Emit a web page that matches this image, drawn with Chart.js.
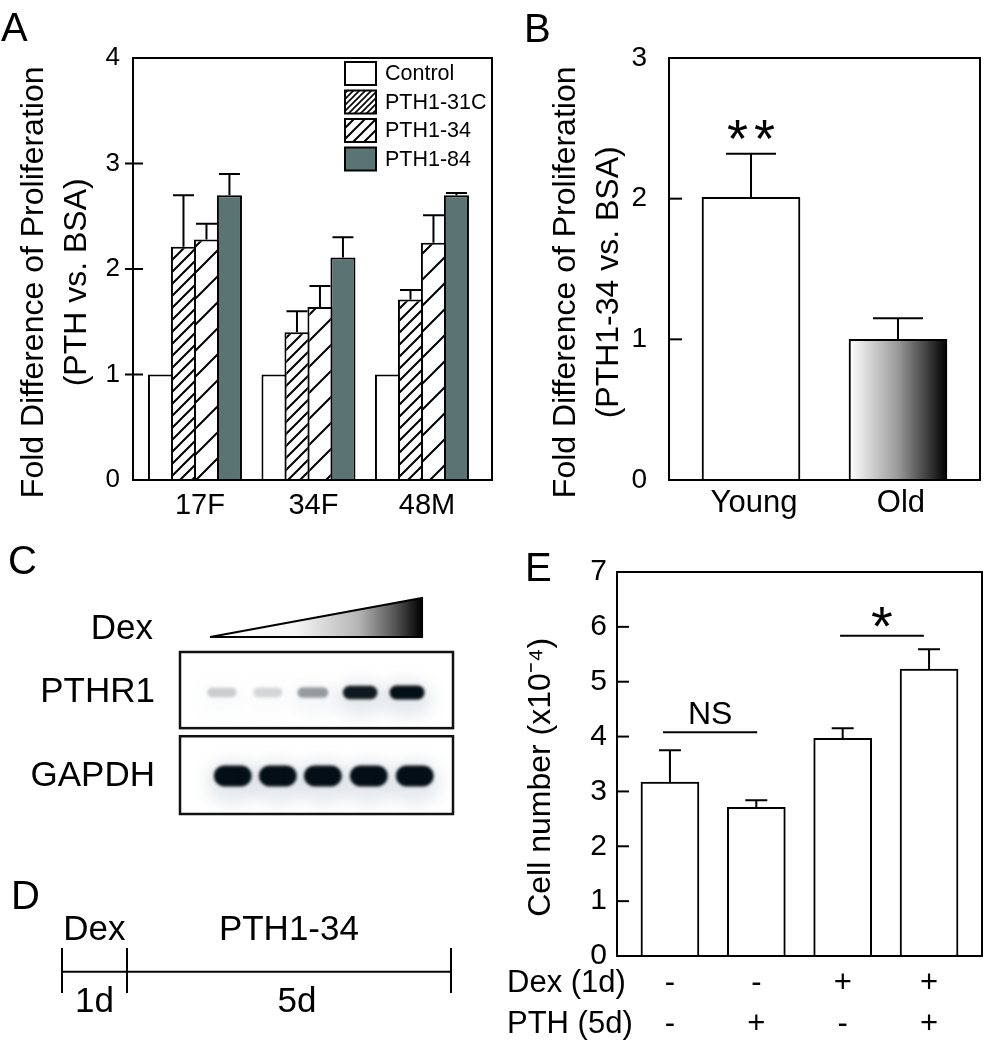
<!DOCTYPE html>
<html>
<head>
<meta charset="utf-8">
<title>PTH proliferation figure</title>
<script src="https://cdn.jsdelivr.net/npm/chart.js@4.4.1/dist/chart.umd.min.js"></script>
<style>
  html, body { margin:0; padding:0; background:#fff; }
  #fig { position:relative; width:995px; height:1050px; overflow:hidden; background:#fff; font-family:"Liberation Sans", Arial, sans-serif; }
  #fig canvas { position:absolute; }
  .panel { position:absolute; font-size:40px; line-height:1; color:#000; }
</style>
</head>
<body>
<div id="fig">
  <canvas id="chartA" width="500" height="525" style="left:0;top:0;width:500px;height:525px"></canvas>
  <canvas id="chartB" width="495" height="525" style="left:500px;top:0;width:495px;height:525px"></canvas>
  <canvas id="chartC" width="480" height="335" style="left:0;top:525px;width:480px;height:335px"></canvas>
  <canvas id="chartD" width="480" height="190" style="left:0;top:860px;width:480px;height:190px"></canvas>
  <canvas id="chartE" width="500" height="525" style="left:495px;top:525px;width:500px;height:525px"></canvas>
  <div class="panel" style="left:1px;top:7px">A</div>
  <div class="panel" style="left:524px;top:8px">B</div>
  <div class="panel" style="left:8px;top:540px">C</div>
  <div class="panel" style="left:11px;top:875px">D</div>
  <div class="panel" style="left:525px;top:547px">E</div>
</div>
<script>
// ================= DATA =================
// Panel A
const groupsA = ['17F', '34F', '48M'];
const seriesA = ['Control', 'PTH1-31C', 'PTH1-34', 'PTH1-84'];
const controlA = [1.00, 1.00, 1.00];
const pth131cA = [2.21, 1.40, 1.71];
const pth131cErrA = [0.49, 0.20, 0.09];
const pth134A = [2.28, 1.64, 2.25];
const pth134ErrA = [0.15, 0.20, 0.26];
const pth184A = [2.70, 2.11, 2.70];
const pth184ErrA = [0.20, 0.19, 0.02];
const yTicksA = [0, 1, 2, 3, 4];

// Panel B
const groupsB = ['Young', 'Old'];
const foldB = [2.01, 1.00];
const foldErrB = [0.31, 0.15];
const sigB = ['**', ''];
const yTicksB = [0, 1, 2, 3];

// Panel C (blot)
const blotRows = ['PTHR1', 'GAPDH'];
const blotRowY = [1.50, 0.47];
const pthr1LaneX = [0.92, 1.93, 2.92, 3.96, 4.99];
const pthr1Signal = [0.20, 0.16, 0.40, 0.95, 1.00];
const gapdhLaneX = [1.16, 2.15, 3.14, 4.15, 5.16];
const gapdhSignal = [1.00, 1.00, 1.00, 1.00, 1.00];

// Panel D (timeline, days)
const phaseName = ['Dex', 'PTH1-34'];
const phaseDuration = ['1d', '5d'];
const phaseStart = [0, 1];
const phaseEnd = [1, 6];

// Panel E
const rowTitlesE = ['Dex (1d)', 'PTH (5d)'];
const dexRowE = ['-', '-', '+', '+'];
const pthRowE = ['-', '+', '-', '+'];
const cellE = [3.17, 2.71, 3.97, 5.23];
const cellErrE = [0.58, 0.13, 0.18, 0.36];
const yTicksE = [0, 1, 2, 3, 4, 5, 6, 7];
const sigTextE = ['NS', '*'];
const sigFromE = [0.92, 2.97];
const sigToE = [2.01, 3.94];
const sigLevelE = [4.08, 5.84];

// ================= SETUP =================
const FAM = '"Liberation Sans", Arial, Helvetica, sans-serif';
Chart.defaults.font.family = FAM;
Chart.defaults.color = '#000';
Chart.defaults.animation = false;
Chart.defaults.plugins.legend.display = false;
Chart.defaults.plugins.tooltip.enabled = false;

// vertical titles sit a little below the plot centre in the figure
const TITLE_PAD = '   ';

function hatch(step, lw) {
  const c = document.createElement('canvas');
  c.width = step; c.height = step;
  const g = c.getContext('2d');
  g.fillStyle = '#fff'; g.fillRect(0, 0, step, step);
  g.strokeStyle = '#000'; g.lineWidth = lw;
  g.beginPath();
  g.moveTo(-2, step + 2); g.lineTo(step + 2, -2);
  g.moveTo(-2, 2); g.lineTo(2, -2);
  g.moveTo(step - 2, step + 2); g.lineTo(step + 2, step - 2);
  g.stroke();
  return g.createPattern(c, 'repeat');
}
const dense = hatch(12, 2), sparse = hatch(26, 2);
const denseLeg = hatch(6, 1.6), sparseLeg = hatch(11, 2);
const slate = '#5a7373';

function ticksFrom(arr) { return s => { s.ticks = arr.map(v => ({ value: v })); }; }

const framePlugin = {
  id: 'frame',
  afterDatasetsDraw(chart, args, o) {
    const { ctx, chartArea: ca } = chart;
    ctx.save(); ctx.strokeStyle = '#000'; ctx.lineWidth = o.lineWidth || 2;
    ctx.strokeRect(ca.left, ca.top, ca.width, ca.height);
    ctx.restore();
  }
};
const innerTicksPlugin = {
  id: 'innerTicks',
  afterDatasetsDraw(chart, args, o) {
    const { ctx, chartArea: ca } = chart; const ys = chart.scales.y;
    ctx.save(); ctx.strokeStyle = '#000'; ctx.lineWidth = 2;
    ys.ticks.forEach(t => {
      const p = ys.getPixelForValue(t.value);
      if (Math.abs(p - ca.top) < 2 || Math.abs(p - ca.bottom) < 2) return;
      ctx.beginPath(); ctx.moveTo(ca.left - (o.outside || 0), p); ctx.lineTo(ca.left + (o.inside || 0), p); ctx.stroke();
    });
    ctx.restore();
  }
};
const errorBarsPlugin = {
  id: 'errorBars',
  afterDatasetsDraw(chart, args, o) {
    const { ctx } = chart; const ys = chart.scales.y;
    ctx.save(); ctx.strokeStyle = '#000'; ctx.lineWidth = 2;
    chart.data.datasets.forEach((ds, di) => {
      if (!ds.errors) return;
      chart.getDatasetMeta(di).data.forEach((el, j) => {
        const e = ds.errors[j]; if (!e) return;
        const top = ys.getPixelForValue(ds.data[j].y + e);
        const h = (o.cap || 20) / 2;
        ctx.beginPath();
        ctx.moveTo(el.x, el.y); ctx.lineTo(el.x, top);
        ctx.moveTo(el.x - h, top); ctx.lineTo(el.x + h, top);
        ctx.stroke();
      });
    });
    ctx.restore();
  }
};
function drawCentered(ctx, text, cx, cy, font, spacing) {
  ctx.save(); ctx.font = font; ctx.fillStyle = '#000'; ctx.textAlign = 'center'; ctx.textBaseline = 'alphabetic';
  if (spacing) ctx.letterSpacing = spacing + 'px';
  const m = ctx.measureText(text);
  const by = cy + (m.actualBoundingBoxAscent - m.actualBoundingBoxDescent) / 2;
  ctx.fillText(text, cx + (spacing ? spacing / 2 : 0), by);
  ctx.restore();
}

// ================= PANEL A =================
const legendAPlugin = {
  id: 'legendA',
  afterDraw(chart, args, o) {
    const { ctx, chartArea: ca } = chart;
    ctx.save();
    chart.data.datasets.forEach((ds, i) => {
      const bx = ca.right - o.fromRight, by = ca.top + o.top + i * o.step;
      ctx.fillStyle = ds.legendFill; ctx.fillRect(bx, by, o.boxW, o.boxH);
      ctx.lineWidth = 2; ctx.strokeStyle = '#000'; ctx.strokeRect(bx, by, o.boxW, o.boxH);
      ctx.fillStyle = '#000'; ctx.font = o.size + 'px ' + FAM; ctx.textBaseline = 'middle'; ctx.textAlign = 'left';
      ctx.fillText(ds.label, bx + o.textGap, by + o.boxH / 2 + 1);
    });
    ctx.restore();
  }
};
const toXY = arr => arr.map((v, i) => ({ x: i + 1, y: v }));
new Chart(document.getElementById('chartA'), {
  type: 'bar',
  data: {
    datasets: [
      { label: seriesA[0], data: toXY(controlA), backgroundColor: '#fff', legendFill: '#fff' },
      { label: seriesA[1], data: toXY(pth131cA), errors: pth131cErrA, backgroundColor: dense, legendFill: denseLeg },
      { label: seriesA[2], data: toXY(pth134A), errors: pth134ErrA, backgroundColor: sparse, legendFill: sparseLeg },
      { label: seriesA[3], data: toXY(pth184A), errors: pth184ErrA, backgroundColor: slate, legendFill: slate }
    ]
  },
  options: {
    responsive: false, devicePixelRatio: 1, animation: false,
    layout: { padding: { top: 58, right: 8, left: 0, bottom: 0 } },
    datasets: { bar: { borderColor: '#000', borderWidth: 2, categoryPercentage: 0.81, barPercentage: 1.09 } },
    scales: {
      x: {
        type: 'linear', min: 0.454, max: 3.617, offset: false,
        afterBuildTicks: ticksFrom(groupsA.map((g, i) => i + 1)),
        afterFit: s => { s.height = 45; },
        grid: { display: false, drawTicks: false, offset: false }, border: { display: false },
        ticks: { padding: 9, labelOffset: 5, font: { size: 29 }, callback: v => groupsA[v - 1] }
      },
      y: {
        min: 0, max: 4,
        afterBuildTicks: ticksFrom(yTicksA),
        afterFit: s => { s.width = 133; },
        grid: { display: false, drawTicks: false }, border: { display: false },
        ticks: { padding: 13, font: { size: 26 } },
        title: { display: true, text: ['Fold Difference of Proliferation' + TITLE_PAD, '(PTH vs. BSA)' + TITLE_PAD], font: { size: 32, lineHeight: 1.344 }, padding: { top: 13, bottom: 0 } }
      }
    },
    plugins: {
      errorBars: { cap: 21 }, frame: { lineWidth: 2 }, innerTicks: { inside: 10, outside: 8 },
      legendA: { fromRight: 147, top: 4, step: 28.5, boxW: 31, boxH: 23, textGap: 40, size: 21.5 }
    }
  },
  plugins: [errorBarsPlugin, framePlugin, innerTicksPlugin, legendAPlugin]
});

// ================= PANEL B =================
const sigBPlugin = {
  id: 'sigB',
  afterDraw(chart, args, o) {
    const { ctx } = chart; const ys = chart.scales.y; const ds = chart.data.datasets[0];
    chart.getDatasetMeta(0).data.forEach((el, j) => {
      if (!sigB[j]) return;
      const top = ys.getPixelForValue(ds.data[j].y + ds.errors[j]);
      drawCentered(ctx, sigB[j], el.x, top - o.gap, '54px ' + FAM, 6);
    });
  }
};
new Chart(document.getElementById('chartB'), {
  type: 'bar',
  data: {
    datasets: [{
      label: 'PTH1-34 vs. BSA', data: toXY(foldB), errors: foldErrB,
      borderColor: '#000', borderWidth: 2, barThickness: 98,
      backgroundColor: c => {
        if (c.dataIndex !== 1 || !c.chart.scales.x) return '#fff';
        const cx = c.chart.scales.x.getPixelForValue(c.dataIndex + 1);
        const g = c.chart.ctx.createLinearGradient(cx - 49, 0, cx + 49, 0);
        g.addColorStop(0, '#ffffff'); g.addColorStop(0.5, '#9a9a9a'); g.addColorStop(1, '#000000');
        return g;
      }
    }]
  },
  options: {
    responsive: false, devicePixelRatio: 1, animation: false,
    layout: { padding: { top: 58, right: 15, left: 0, bottom: 0 } },
    scales: {
      x: {
        type: 'linear', min: 0.442, max: 2.558, offset: false,
        afterBuildTicks: ticksFrom(groupsB.map((g, i) => i + 1)),
        afterFit: s => { s.height = 45; },
        grid: { display: false, drawTicks: false, offset: false }, border: { display: false },
        ticks: { padding: 5, labelOffset: 3, font: { size: 31 }, callback: v => groupsB[v - 1] }
      },
      y: {
        min: 0, max: 3,
        afterBuildTicks: ticksFrom(yTicksB),
        afterFit: s => { s.width = 169; },
        grid: { display: false, drawTicks: false }, border: { display: false },
        ticks: { padding: 22, font: { size: 28 } },
        title: { display: true, text: ['Fold Difference of Proliferation' + TITLE_PAD, '(PTH1-34 vs. BSA)' + TITLE_PAD], font: { size: 32, lineHeight: 1.344 }, padding: { top: 45, bottom: 0 } }
      }
    },
    plugins: { errorBars: { cap: 50 }, frame: { lineWidth: 2 }, innerTicks: { inside: 13, outside: 0 }, sigB: { gap: 24 } }
  },
  plugins: [errorBarsPlugin, framePlugin, innerTicksPlugin, sigBPlugin]
});

// ================= PANEL C =================
function pill(ctx, cx, cy, w, h) {
  const r = h / 2;
  ctx.beginPath();
  ctx.moveTo(cx - w / 2 + r, cy - h / 2);
  ctx.lineTo(cx + w / 2 - r, cy - h / 2);
  ctx.arc(cx + w / 2 - r, cy, r, -Math.PI / 2, Math.PI / 2);
  ctx.lineTo(cx - w / 2 + r, cy + h / 2);
  ctx.arc(cx - w / 2 + r, cy, r, Math.PI / 2, Math.PI * 1.5);
  ctx.closePath();
}
const blotPlugin = {
  id: 'blot',
  beforeDatasetsDraw(chart, args, o) {
    const { ctx, chartArea: ca, scales: { x, y } } = chart;
    chart.data.datasets.forEach((ds, di) => {
      chart.getDatasetMeta(di).data.forEach((el, j) => {
        const a = ds.signal[j];
        const w = ds.bandW * (0.8 + 0.2 * a), h = ds.bandH * (0.6 + 0.4 * a);
        ctx.save();
        ctx.filter = 'blur(8px)';
        ctx.fillStyle = 'rgba(70,100,125,' + (0.14 * a) + ')';
        pill(ctx, el.x, el.y + 6, w + 14, h + 22); ctx.fill();
        ctx.filter = 'blur(1.4px)';
        ctx.fillStyle = 'rgba(4,14,22,' + a + ')';
        pill(ctx, el.x, el.y, w, h); ctx.fill();
        ctx.restore();
      });
    });
    ctx.save();
    ctx.lineWidth = 2.5; ctx.strokeStyle = '#111';
    o.boxes.forEach(b => {
      const t = y.getPixelForValue(b.to), bt = y.getPixelForValue(b.from);
      ctx.strokeRect(ca.left, t, ca.width, bt - t);
    });
    // dose ramp
    const xl = x.getPixelForValue(o.rampFrom), xr = x.getPixelForValue(o.rampTo);
    const yb = ca.top - o.rampGap, yt = yb - o.rampHeight;
    const g = ctx.createLinearGradient(xl, 0, xr, 0);
    g.addColorStop(0, '#ffffff'); g.addColorStop(0.4, '#f6f6f6'); g.addColorStop(0.7, '#b5b5b5');
    g.addColorStop(0.88, '#505050'); g.addColorStop(1, '#000000');
    ctx.beginPath(); ctx.moveTo(xl, yb); ctx.lineTo(xr, yt); ctx.lineTo(xr, yb); ctx.closePath();
    ctx.fillStyle = g; ctx.fill(); ctx.lineWidth = 2; ctx.strokeStyle = '#000'; ctx.lineJoin = 'miter'; ctx.stroke();
    ctx.fillStyle = '#000'; ctx.font = '35px ' + FAM; ctx.textAlign = 'right'; ctx.textBaseline = 'alphabetic';
    ctx.fillText(o.rampLabel, o.rampLabelRight, yb + 2);
    ctx.restore();
  }
};
new Chart(document.getElementById('chartC'), {
  type: 'scatter',
  data: {
    datasets: [
      { label: blotRows[0], data: pthr1LaneX.map(v => ({ x: v, y: blotRowY[0] })), signal: pthr1Signal, bandW: 35, bandH: 14, pointRadius: 0 },
      { label: blotRows[1], data: gapdhLaneX.map(v => ({ x: v, y: blotRowY[1] })), signal: gapdhSignal, bandW: 38, bandH: 21, pointRadius: 0 }
    ]
  },
  options: {
    responsive: false, devicePixelRatio: 1, animation: false,
    layout: { padding: { top: 127, right: 27, left: 0, bottom: 14 } },
    scales: {
      x: { type: 'linear', min: 0, max: 6, display: false },
      y: {
        min: 0, max: 2,
        afterBuildTicks: ticksFrom(blotRowY),
        afterFit: s => { s.width = 180; },
        grid: { display: false, drawTicks: false }, border: { display: false },
        ticks: { padding: 25, font: { size: 35 }, callback: v => { const i = blotRowY.indexOf(v); return i >= 0 ? blotRows[i] : ''; } }
      }
    },
    plugins: {
      blot: { boxes: [{ from: 1.06, to: 2 }, { from: 0, to: 0.96 }], rampFrom: 0.66, rampTo: 5.32, rampGap: 15, rampHeight: 39, rampLabel: 'Dex', rampLabelRight: 153 }
    }
  },
  plugins: [blotPlugin]
});

// ================= PANEL D =================
const timelinePlugin = {
  id: 'timeline',
  afterDraw(chart, args, o) {
    const { ctx, chartArea: ca, scales: { x } } = chart;
    ctx.save(); ctx.fillStyle = '#000'; ctx.font = '35px ' + FAM; ctx.textAlign = 'center'; ctx.textBaseline = 'alphabetic';
    phaseName.forEach((n, i) => {
      const cx = (x.getPixelForValue(phaseStart[i]) + x.getPixelForValue(phaseEnd[i])) / 2;
      ctx.fillText(n, cx, ca.top - o.above);
      ctx.fillText(phaseDuration[i], cx + (i ? o.shift : 0), ca.bottom + o.below);
    });
    ctx.restore();
  }
};
const boundaries = Array.from(new Set(phaseStart.concat(phaseEnd))).sort((a, b) => a - b);
new Chart(document.getElementById('chartD'), {
  type: 'line',
  data: { datasets: [{ data: [{ x: phaseStart[0], y: 0 }, { x: phaseEnd[phaseEnd.length - 1], y: 0 }], borderColor: '#000', borderWidth: 2, pointRadius: 0 }] },
  options: {
    responsive: false, devicePixelRatio: 1, animation: false,
    layout: { padding: { top: 88, right: 29, left: 62, bottom: 57 } },
    scales: {
      x: {
        type: 'linear', min: 0, max: 6,
        afterBuildTicks: ticksFrom(boundaries),
        afterFit: s => { s.height = 0; },
        grid: { display: true, drawOnChartArea: true, drawTicks: false, color: '#000', lineWidth: 2 },
        border: { display: false }, ticks: { display: false }
      },
      y: { min: -1, max: 1.13, display: false }
    },
    plugins: { timeline: { above: 8, below: 19, shift: 8 } }
  },
  plugins: [timelinePlugin]
});

// ================= PANEL E =================
const rowTitlesPlugin = {
  id: 'rowTitles',
  afterDraw(chart, args, o) {
    const { ctx } = chart; const xs = chart.scales.x;
    const items = xs.getLabelItems ? xs.getLabelItems() : null;
    if (!items || !items.length) return;
    const it = items[0];
    const lh = it.font.lineHeight;
    const y0 = it.options.translation[1] + it.textOffset;
    ctx.save(); ctx.fillStyle = '#000'; ctx.font = it.font.string; ctx.textAlign = 'left'; ctx.textBaseline = it.options.textBaseline;
    rowTitlesE.forEach((t, i) => ctx.fillText(t, o.left, y0 + i * lh));
    ctx.restore();
  }
};
const sigEPlugin = {
  id: 'sigE',
  afterDraw(chart, args, o) {
    const { ctx, scales: { x, y } } = chart;
    ctx.save(); ctx.strokeStyle = '#000'; ctx.lineWidth = 2;
    sigTextE.forEach((t, i) => {
      const x1 = x.getPixelForValue(sigFromE[i]), x2 = x.getPixelForValue(sigToE[i]), yy = y.getPixelForValue(sigLevelE[i]);
      ctx.beginPath(); ctx.moveTo(x1, yy); ctx.lineTo(x2, yy); ctx.stroke();
      if (t === '*') drawCentered(ctx, t, (x1 + x2) / 2, yy - 19, '56px ' + FAM);
      else drawCentered(ctx, t, (x1 + x2) / 2, yy - 19.5, '32px ' + FAM);
    });
    ctx.restore();
  }
};
new Chart(document.getElementById('chartE'), {
  type: 'bar',
  data: { datasets: [{ label: 'Cell number', data: toXY(cellE), errors: cellErrE, backgroundColor: '#fff', borderColor: '#000', borderWidth: 2, barThickness: 58 }] },
  options: {
    responsive: false, devicePixelRatio: 1, animation: false,
    layout: { padding: { top: 47, right: 13, left: 0, bottom: 0 } },
    scales: {
      x: {
        type: 'linear', min: 0.387, max: 4.613, offset: false,
        afterBuildTicks: ticksFrom(cellE.map((v, i) => i + 1)),
        afterFit: s => { s.height = 94; },
        grid: { display: false, drawTicks: false, offset: false }, border: { display: false },
        ticks: { padding: 7, font: { size: 31, lineHeight: 1.323 }, callback: v => [dexRowE[v - 1], pthRowE[v - 1]] }
      },
      y: {
        min: 0, max: 7,
        afterBuildTicks: ticksFrom(yTicksE),
        afterFit: s => { s.width = 122; },
        grid: { display: false, drawTicks: false }, border: { display: false },
        ticks: { padding: 10, font: { size: 30 } },
        title: { display: true, text: 'Cell number (x10\u207B\u2074)' + TITLE_PAD, font: { size: 32, lineHeight: 1.2 }, padding: { top: 27, bottom: 0 } }
      }
    },
    plugins: { errorBars: { cap: 22 }, frame: { lineWidth: 2 }, innerTicks: { inside: 12, outside: 0 }, rowTitles: { left: 12 } }
  },
  plugins: [errorBarsPlugin, framePlugin, innerTicksPlugin, sigEPlugin, rowTitlesPlugin]
});
</script>
</body>
</html>
